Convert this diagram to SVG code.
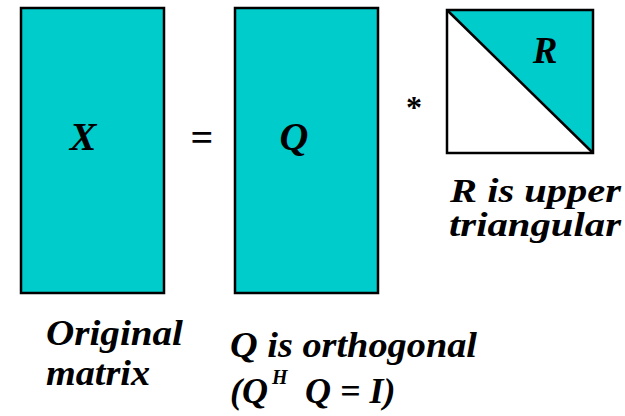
<svg xmlns="http://www.w3.org/2000/svg" width="625" height="416" viewBox="0 0 625 416">
<style>
.m{fill:#00CCCC;stroke:#000;stroke-width:2.5}
.t{font-family:'Liberation Serif','Times New Roman','DejaVu Serif',serif;font-weight:700;font-style:italic;fill:#000}
.o{font-family:'Liberation Serif','Times New Roman','DejaVu Serif',serif;font-weight:700;fill:#000}
</style>
<rect width="625" height="416" fill="#fff"/>
<g id="X">
<rect class="m" x="21" y="8" width="143" height="285"/>
<text class="t" x="83" y="150" font-size="40" text-anchor="middle">X</text>
</g>
<g id="eq"><text class="o" x="202" y="151" font-size="40" text-anchor="middle">=</text></g>
<g id="Q">
<rect class="m" x="235" y="8" width="143" height="285"/>
<text class="t" x="294" y="150" font-size="40" text-anchor="middle">Q</text>
</g>
<g id="mul"><text class="o" x="414" y="118" font-size="32" text-anchor="middle">*</text></g>
<g id="R">
<polygon points="447,10 593,10 593,153" fill="#00CCCC"/>
<rect x="447" y="10" width="146" height="143" fill="none" stroke="#000" stroke-width="2.5"/>
<line x1="447" y1="10" x2="593" y2="153" stroke="#000" stroke-width="2.5"/>
<text class="t" x="545" y="63" font-size="37" text-anchor="middle">R</text>
</g>
<g id="labels">
<text class="t" x="450" y="202" font-size="33" textLength="171" lengthAdjust="spacingAndGlyphs">R is upper</text>
<text class="t" x="449" y="236" font-size="33" textLength="172" lengthAdjust="spacingAndGlyphs">triangular</text>
<text class="t" x="46" y="345" font-size="35" textLength="137" lengthAdjust="spacingAndGlyphs">Original</text>
<text class="t" x="46" y="385" font-size="35" textLength="104" lengthAdjust="spacingAndGlyphs">matrix</text>
<text class="t" x="230" y="357" font-size="36" textLength="247" lengthAdjust="spacingAndGlyphs">Q is orthogonal</text>
<text class="t" x="230" y="403" font-size="36">(Q</text>
<text class="t" x="272" y="384" font-size="20">H</text>
<text class="t" x="305" y="403" font-size="36">Q = I)</text>
</g>
</svg>
